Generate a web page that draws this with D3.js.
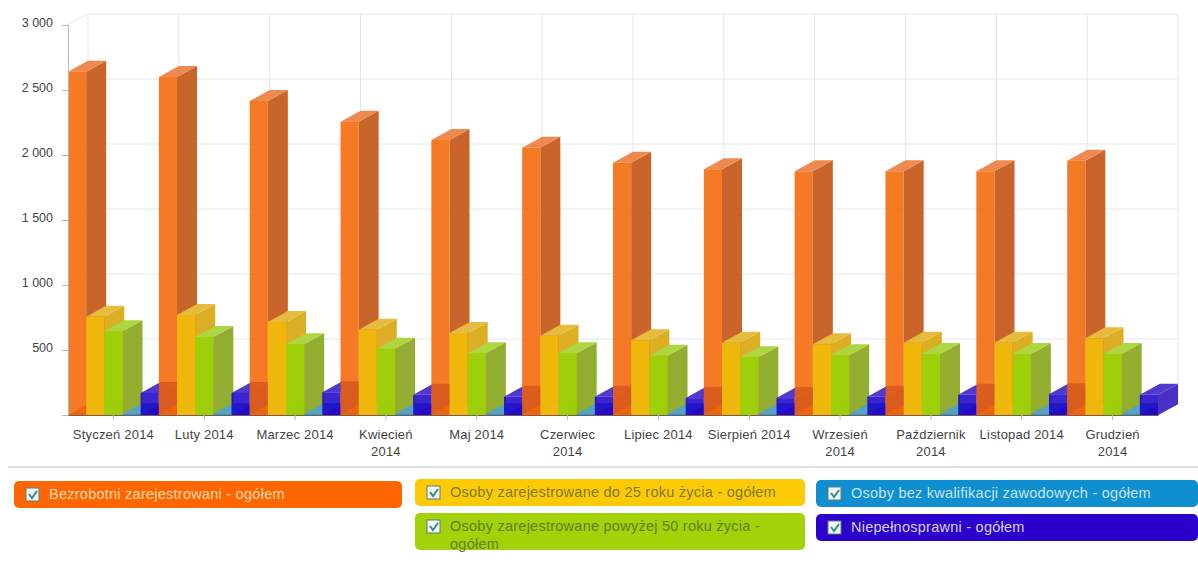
<!DOCTYPE html>
<html>
<head>
<meta charset="utf-8">
<script src="https://cdn.jsdelivr.net/npm/d3@7"></script>
<style>
  html, body { margin: 0; padding: 0; background: #fff; }
  text { font-family: "Liberation Sans", Arial, sans-serif; }
</style>
</head>
<body>
<svg id="chart" width="1198" height="569"></svg>
<script>
// values
const months = ["Styczeń 2014", "Luty 2014", "Marzec 2014", "Kwiecień\n2014", "Maj 2014", "Czerwiec\n2014",
  "Lipiec 2014", "Sierpień 2014", "Wrzesień\n2014", "Październik\n2014", "Listopad 2014", "Grudzień\n2014"];
const ogolem     = [2640, 2600, 2415, 2255, 2115, 2055, 1940, 1890, 1875, 1875, 1875, 1955];
const do25       = [755, 770, 715, 655, 630, 610, 575, 555, 545, 555, 555, 590];
const pow50      = [645, 600, 545, 510, 475, 475, 455, 445, 460, 470, 470, 470];
const bezKwal    = [8, 8, 8, 8, 8, 8, 8, 8, 8, 8, 8, 8];
const niepelno   = [170, 170, 175, 155, 140, 140, 130, 130, 140, 155, 160, 155];
const yTicks     = [500, 1000, 1500, 2000, 2500, 3000];

const series = [
  { values: ogolem,   front: "#f36300", side: "#c9652a", top: "#ee8a50", alpha: 0.85 },
  { values: do25,     front: "#f0b80c", side: "#dcae24", top: "#e6bc3e", alpha: 0.98 },
  { values: pow50,    front: "#9ccf08", side: "#92ad30", top: "#aed640", alpha: 0.98 },
  { values: bezKwal,  front: "#2b93cf", side: "#4a9fc0", top: "#55a2c4", alpha: 0.85 },
  { values: niepelno, front: "#1700c8", side: "#4a30c6", top: "#5238cc", alpha: 0.85 }
];

const legendRows = [
  { label: ["Bezrobotni zarejestrowani - ogółem"], x: 14, y: 481, w: 388, h: 27, fill: "#ff6600", ink: "#ffd9b0" },
  { label: ["Osoby zarejestrowane do 25 roku życia - ogółem"], x: 415, y: 479, w: 390, h: 27, fill: "#fdcb05", ink: "#7d7a22" },
  { label: ["Osoby zarejestrowane powyżej 50 roku życia -", "ogółem"], x: 415, y: 513, w: 390, h: 37, fill: "#a2d208", ink: "#5f7f22" },
  { label: ["Osoby bez kwalifikacji zawodowych - ogółem"], x: 816, y: 480, w: 382, h: 27, fill: "#0f8fd0", ink: "#c4e6f5" },
  { label: ["Niepełnosprawni - ogółem"], x: 816, y: 514, w: 382, h: 27, fill: "#2b00cc", ink: "#d8d0f5" }
];

const svg = d3.select("#chart");
const depthX = 20, depthY = -11;
const x0 = 68, x1 = 1158, yBase = 415, yTop = 25;

const x = d3.scaleBand().domain(d3.range(months.length)).range([x0, x1]);
const xs = d3.scaleBand().domain(d3.range(series.length)).range([0, x.bandwidth()]);
const y = d3.scaleLinear().domain([0, 3000]).range([yBase, yTop]);

// back wall and grid
const grid = svg.append("g").attr("fill", "none").attr("stroke", "#e4e6ea").attr("stroke-width", 1);
yTicks.forEach(v => {
  grid.append("path").attr("d", `M${x0},${y(v)}l${depthX},${depthY}H${x1 + depthX}`);
});
d3.range(months.length + 1).forEach(i => {
  const px = x0 + i * x.bandwidth() + depthX;
  grid.append("line").attr("x1", px).attr("x2", px).attr("y1", yTop + depthY).attr("y2", yBase + depthY);
});

// bars go left to right, so the next one is laid over the depth of the last
const poly = (g, pts, fill, op) => g.append("polygon").attr("points", pts.join(" ")).attr("fill", fill).attr("fill-opacity", op);
const bars = svg.append("g");
months.forEach((m, i) => {
  series.forEach((s, j) => {
    const l = x(i) + xs(j), r = l + xs.bandwidth(), t = y(s.values[i]), b = yBase;
    poly(bars, [[l, b], [r, b], [r + depthX, b + depthY], [l + depthX, b + depthY]], s.side, 0.9);
    poly(bars, [[r, t], [r + depthX, t + depthY], [r + depthX, b + depthY], [r, b]], s.side, 1);
    poly(bars, [[l, t], [l + depthX, t + depthY], [r + depthX, t + depthY], [r, t]], s.top, 1);
    poly(bars, [[l, t], [r, t], [r, b], [l, b]], s.front, s.alpha);
  });
});

// axes
const yAxis = d3.axisLeft(y).tickValues(yTicks.concat([0]))
  .tickFormat(v => v === 0 ? "" : d3.format(",")(v).replace(",", " "))
  .tickSize(6).tickPadding(9);
const gy = svg.append("g").attr("transform", `translate(${x0},0)`).call(yAxis);
gy.selectAll("line, path").attr("stroke", "#b4b8bc");
gy.selectAll("text").attr("font-size", 12.5).attr("fill", "#444").attr("dy", "0.1em");

const xAxis = d3.axisBottom(x).tickFormat(() => "").tickSize(5).tickSizeOuter(0);
const gx = svg.append("g").attr("transform", `translate(0,${yBase})`).call(xAxis);
gx.selectAll("line").attr("stroke", "#b4b8bc");
gx.select("path").attr("stroke", "#7a5a50");

gx.selectAll("g.tick").each(function (d) {
  const lines = months[d].split("\n");
  const t = d3.select(this).append("text").attr("text-anchor", "middle").attr("fill", "#444").attr("font-size", 13).attr("letter-spacing", 0.2);
  lines.forEach((ln, k) => t.append("tspan").attr("x", 0).attr("y", 24 + k * 17).text(ln));
});

// legend
svg.append("line").attr("x1", 8).attr("x2", 1198).attr("y1", 467).attr("y2", 467).attr("stroke", "#dfe1e4").attr("stroke-width", 2);
const legend = svg.append("g").selectAll("g").data(legendRows).join("g")
  .attr("transform", d => `translate(${d.x},${d.y})`);
legend.append("rect").attr("width", d => d.w).attr("height", d => d.h).attr("rx", 5).attr("fill", d => d.fill);
legend.append("rect").attr("x", 12).attr("y", 7).attr("width", 13).attr("height", 13).attr("fill", "#f2f6f4").attr("stroke", "#5d7d78");
legend.append("path").attr("d", "M15,13l3,4l5,-7").attr("fill", "none").attr("stroke", "#2f8f8a").attr("stroke-width", 2);
legend.each(function (d) {
  const t = d3.select(this).append("text").attr("fill", d.ink).attr("font-size", 14.5).attr("letter-spacing", 0.25);
  d.label.forEach((ln, k) => t.append("tspan").attr("x", 35).attr("y", 18 + k * 18).text(ln));
});
</script>
</body>
</html>
